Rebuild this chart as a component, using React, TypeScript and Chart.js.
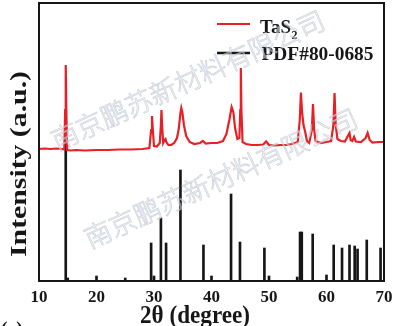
import React, { useEffect, useRef } from 'react';
import { Chart, registerables } from 'chart.js';

Chart.register(...registerables);

// ---- data (2θ in degrees, intensity in arbitrary units) ----
const redX = [
  10.0, 11.0, 12.0, 13.0, 14.0, 14.4, 14.55, 14.65, 14.75, 14.9, 15.5, 16.5, 18.0, 20.0, 22.0, 24.0, 26.0, 28.0,
  29.2, 29.5, 29.65, 29.8, 30.0, 30.5, 31.0, 31.2, 31.3, 31.4, 31.6, 31.85, 32.0, 32.15, 32.5, 33.0, 33.5,
  34.0, 34.3, 34.6, 34.75, 34.95, 35.2, 35.6, 36.2, 37.0, 38.0, 38.5, 39.0, 40.0, 41.0, 42.0, 42.6, 43.1, 43.5, 43.8,
  44.1, 44.5, 44.85, 45.0, 45.1, 45.2, 45.4, 46.0, 47.0, 48.0, 49.0, 49.5, 50.0, 51.0, 52.0, 53.0, 54.0, 55.0,
  55.35, 55.55, 55.75, 56.0, 56.3, 56.6, 57.0, 57.45, 57.65, 57.85, 58.1, 59.0, 60.0, 60.8, 61.2, 61.4, 61.6,
  61.9, 62.5, 63.2, 63.8, 64.0, 64.2, 64.5, 64.8, 65.1, 66.0, 66.8, 67.15, 67.5, 68.0, 69.0, 70.0,
];
const redY = [
  132, 132.5, 132, 132.5, 132, 131.5, 171, 216, 171, 131, 130.5, 131, 130.5, 131, 131, 131.5, 131.5, 132,
  133, 151, 165, 151, 135, 134.5, 138, 156, 171, 156, 138, 141, 142, 139, 136, 136, 138,
  143, 152, 168, 173, 168, 156, 145, 139, 137, 138, 140, 137.5, 138, 138, 140, 147, 161, 174, 169,
  153, 142, 143, 171, 213, 171, 139, 137, 136, 136, 136.5, 139.5, 136, 135.5, 136, 136, 137, 139,
  161, 188.5, 169, 156, 149, 140, 138, 151, 177, 151, 140, 138, 139, 140, 156, 188, 156,
  142, 140, 139.5, 146, 148, 141, 140, 144, 139.5, 139, 143, 148, 141, 138.5, 139, 139,
];

const stickX = [
  14.65, 15.0, 20.0, 25.0, 29.5, 30.0, 31.2, 32.1, 34.6, 38.6, 40.0, 43.4, 44.95, 49.2, 50.0, 54.9,
  55.4, 55.7, 57.6, 60.0, 61.25, 62.7, 64.0, 64.9, 65.4, 67.0, 69.4,
];
const stickY = [
  156, 3, 5, 3, 38, 5, 63, 38, 111, 36, 5, 87, 39, 33, 5, 4,
  49, 49, 47, 6, 36, 33, 36, 35, 32, 41, 33,
];

const xMin = 10;
const xMax = 70;
const xStep = 10;
const yMin = 0;
const yMax = 278;

const seriesNames = ['TaS', 'PDF#80-0685'];
const xTitle = '2θ (degree)';
const yTitle = 'Intensity (a.u.)';
const watermark = '南京鹏苏新材料有限公司';

const SERIF = '"Liberation Serif", "Times New Roman", serif';
const RED = 'rgb(232,32,38)';
const BLACK = '#161616';

const overlay = {
  id: 'overlay',
  afterDraw(chart: any) {
    const { ctx, chartArea } = chart;
    const { left, top, right, bottom } = chartArea;
    ctx.save();

    // frame
    ctx.strokeStyle = BLACK;
    ctx.lineWidth = 2;
    ctx.strokeRect(left, top, right - left, bottom - top);

    // legend
    ctx.lineWidth = 2;
    ctx.strokeStyle = RED;
    ctx.beginPath();
    ctx.moveTo(217, 24);
    ctx.lineTo(250, 24);
    ctx.stroke();
    ctx.strokeStyle = BLACK;
    ctx.lineWidth = 2.5;
    ctx.beginPath();
    ctx.moveTo(217, 53);
    ctx.lineTo(250, 53);
    ctx.stroke();

    ctx.fillStyle = BLACK;
    ctx.textAlign = 'left';
    ctx.textBaseline = 'alphabetic';
    ctx.font = `bold 19px ${SERIF}`;
    ctx.fillText(seriesNames[0], 260, 33);
    const w0 = ctx.measureText(seriesNames[0]).width;
    ctx.font = `bold 12px ${SERIF}`;
    ctx.fillText('2', 260 + w0 + 0.5, 38.5);
    ctx.font = `bold 19px ${SERIF}`;
    {
      const w = ctx.measureText(seriesNames[1]).width;
      ctx.save();
      ctx.translate(261.5, 60);
      ctx.scale(112 / w, 1);
      ctx.fillText(seriesNames[1], 0, 0);
      ctx.restore();
    }

    // x title
    ctx.font = `bold 26px ${SERIF}`;
    {
      const w = ctx.measureText(xTitle).width;
      ctx.save();
      ctx.translate(195, 323);
      ctx.scale(110 / w, 1);
      ctx.textAlign = 'center';
      ctx.fillText(xTitle, 0, 0);
      ctx.restore();
    }

    // y title
    ctx.font = `bold 24px ${SERIF}`;
    {
      const w = ctx.measureText(yTitle).width;
      ctx.save();
      ctx.translate(26, 164);
      ctx.rotate(-Math.PI / 2);
      ctx.scale(186 / w, 1);
      ctx.textAlign = 'center';
      ctx.fillText(yTitle, 0, 0);
      ctx.restore();
    }

    // panel label (cut off at the bottom)
    ctx.font = `bold 20px ${SERIF}`;
    ctx.textAlign = 'right';
    ctx.fillText('(c)', 23, 336);

    // watermark
    ctx.font = `300 27px "Noto Sans CJK SC", sans-serif`;
    ctx.textAlign = 'left';
    const marks = [
      [57, 151],
      [90, 249],
    ];
    for (const [mx, my] of marks) {
      ctx.save();
      ctx.translate(mx, my);
      ctx.rotate((-24.5 * Math.PI) / 180);
      ctx.fillStyle = 'rgba(255,255,255,0.45)';
      ctx.fillText(watermark, 0, 0);
      ctx.strokeStyle = 'rgba(175,184,198,0.6)';
      ctx.lineWidth = 0.8;
      ctx.strokeText(watermark, 0, 0);
      ctx.restore();
    }

    ctx.restore();
  },
};

export default function App() {
  const ref = useRef<HTMLCanvasElement | null>(null);

  useEffect(() => {
    if (!ref.current) return;
    const redData = redX.map((x, i) => ({ x, y: redY[i] }));
    const stickData = stickX.map((x, i) => ({ x, y: stickY[i] }));

    const chart = new Chart(ref.current, {
      type: 'line',
      data: {
        datasets: [
          {
            type: 'line',
            label: 'TaS2',
            data: redData,
            borderColor: RED,
            borderWidth: 2.2,
            pointRadius: 0,
            tension: 0,
            order: 0,
          },
          {
            type: 'bar',
            label: 'PDF#80-0685',
            data: stickData,
            backgroundColor: BLACK,
            borderWidth: 0,
            barThickness: 2,
            order: 1,
          } as any,
        ],
      },
      options: {
        responsive: false,
        animation: false,
        events: [],
        layout: { padding: { top: 3, right: 16, left: 0, bottom: 0 } },
        plugins: {
          legend: { display: false },
          tooltip: { enabled: false },
          title: { display: false },
        },
        scales: {
          x: {
            type: 'linear',
            min: xMin,
            max: xMax,
            offset: false,
            grid: { display: false, drawTicks: false },
            border: { display: false },
            ticks: {
              stepSize: xStep,
              padding: 6,
              color: BLACK,
              font: { family: SERIF, weight: 'bold', size: 17 },
              maxRotation: 0,
            },
            afterFit(scale: any) {
              scale.height = 45;
            },
          },
          y: {
            type: 'linear',
            min: yMin,
            max: yMax,
            grid: { display: false, drawTicks: false },
            border: { display: false },
            ticks: { display: false },
            afterFit(scale: any) {
              scale.width = 39;
            },
          },
        },
      } as any,
      plugins: [overlay],
    });
    return () => chart.destroy();
  }, []);

  return (
    <div style={{ position: 'fixed', left: 0, top: 0, width: 400, height: 326, background: '#fff' }}>
      <canvas ref={ref} width={400} height={326} />
    </div>
  );
}
